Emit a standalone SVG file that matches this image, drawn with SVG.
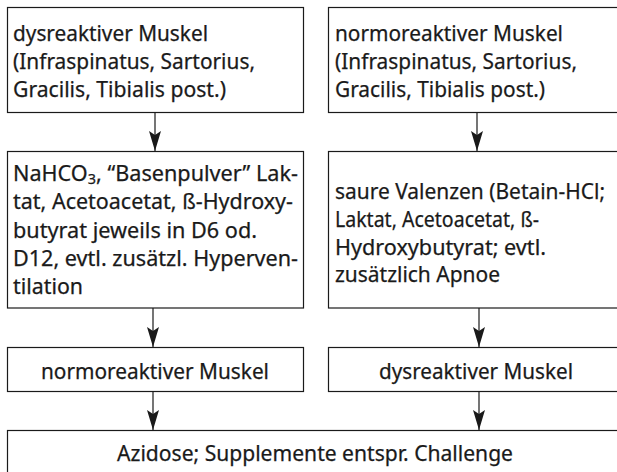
<svg xmlns="http://www.w3.org/2000/svg" width="617" height="472" viewBox="0 0 617 472">
<defs>
<style>
.box{fill:#fff;stroke:#1a1a1a;stroke-width:1.2}
.t{font-family:"Noto Sans","Open Sans","Liberation Sans",sans-serif;font-size:21px;fill:#1a1a1a;stroke:#1a1a1a;stroke-width:0.25}
.c{text-anchor:middle}
.ln{stroke:#1a1a1a;stroke-width:1.2;fill:none}
</style>
<marker id="ah" viewBox="0 0 20 12" refX="20" refY="6" markerWidth="20" markerHeight="12" markerUnits="userSpaceOnUse" orient="auto">
<path d="M0,0 L20,6 L0,12 L4,6 Z" fill="#1a1a1a"/>
</marker>
</defs>
<rect width="617" height="472" fill="#fff"/>
<g id="n1">
<rect class="box" x="7.5" y="7.5" width="296" height="105"/>
<text class="t" x="13" y="41" textLength="195" lengthAdjust="spacingAndGlyphs">dysreaktiver Muskel</text>
<text class="t" x="13" y="69" textLength="242" lengthAdjust="spacingAndGlyphs">(Infraspinatus, Sartorius,</text>
<text class="t" x="13" y="97" textLength="213" lengthAdjust="spacingAndGlyphs">Gracilis, Tibialis post.)</text>
</g>
<g id="n2">
<rect class="box" x="328.5" y="7.5" width="292" height="105"/>
<text class="t" x="335" y="41" textLength="228" lengthAdjust="spacingAndGlyphs">normoreaktiver Muskel</text>
<text class="t" x="335" y="69" textLength="242" lengthAdjust="spacingAndGlyphs">(Infraspinatus, Sartorius,</text>
<text class="t" x="335" y="97" textLength="210" lengthAdjust="spacingAndGlyphs">Gracilis, Tibialis post.)</text>
</g>
<g id="n3">
<rect class="box" x="7.5" y="151.5" width="296" height="156.5"/>
<text class="t" x="13" y="181" textLength="285" lengthAdjust="spacingAndGlyphs">NaHCO<tspan font-size="14" dy="3">3</tspan><tspan dy="-3">, “Basenpulver” Lak-</tspan></text>
<text class="t" x="13" y="209" textLength="280" lengthAdjust="spacingAndGlyphs">tat, Acetoacetat, ß-Hydroxy-</text>
<text class="t" x="13" y="237.5" textLength="244" lengthAdjust="spacingAndGlyphs">butyrat jeweils in D6 od.</text>
<text class="t" x="13" y="265.5" textLength="285" lengthAdjust="spacingAndGlyphs">D12, evtl. zusätzl. Hyperven-</text>
<text class="t" x="13" y="293.5" textLength="70" lengthAdjust="spacingAndGlyphs">tilation</text>
</g>
<g id="n4">
<rect class="box" x="328.5" y="151.5" width="292" height="156.5"/>
<text class="t" x="335" y="199" textLength="270" lengthAdjust="spacingAndGlyphs">saure Valenzen (Betain-HCl;</text>
<text class="t" x="335" y="227" textLength="204" lengthAdjust="spacingAndGlyphs">Laktat, Acetoacetat, ß-</text>
<text class="t" x="335" y="254.5" textLength="211" lengthAdjust="spacingAndGlyphs">Hydroxybutyrat; evtl.</text>
<text class="t" x="335" y="282" textLength="165" lengthAdjust="spacingAndGlyphs">zusätzlich Apnoe</text>
</g>
<g id="n5">
<rect class="box" x="7.5" y="347.5" width="296" height="44"/>
<text class="t c" x="155" y="379" textLength="228" lengthAdjust="spacingAndGlyphs">normoreaktiver Muskel</text>
</g>
<g id="n6">
<rect class="box" x="328.5" y="347.5" width="292" height="44"/>
<text class="t c" x="476" y="379" textLength="194" lengthAdjust="spacingAndGlyphs">dysreaktiver Muskel</text>
</g>
<g id="n7">
<rect class="box" x="7.5" y="430.5" width="613" height="45"/>
<text class="t c" x="315" y="461" textLength="396" lengthAdjust="spacingAndGlyphs">Azidose; Supplemente entspr. Challenge</text>
</g>
<g id="connectors">
<line class="ln" x1="155" y1="112.5" x2="155" y2="151" marker-end="url(#ah)"/>
<line class="ln" x1="477" y1="112.5" x2="477" y2="151" marker-end="url(#ah)"/>
<line class="ln" x1="153" y1="308" x2="153" y2="347" marker-end="url(#ah)"/>
<line class="ln" x1="479" y1="308" x2="479" y2="347" marker-end="url(#ah)"/>
<line class="ln" x1="153" y1="391.5" x2="153" y2="430" marker-end="url(#ah)"/>
<line class="ln" x1="479" y1="391.5" x2="479" y2="430" marker-end="url(#ah)"/>
</g>
</svg>
